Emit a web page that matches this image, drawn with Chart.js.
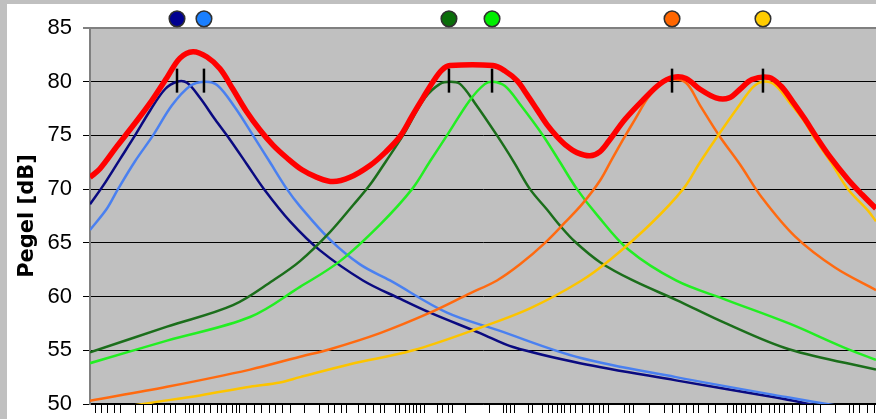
<!DOCTYPE html>
<html>
<head>
<meta charset="utf-8">
<script src="https://cdn.jsdelivr.net/npm/chart.js@4.4.1/dist/chart.umd.min.js"></script>
<style>
  html, body { margin: 0; padding: 0; background: #c0c0c0; width: 876px; height: 419px; overflow: hidden; }
  #panel { position: absolute; left: 7px; top: 4px; width: 869px; height: 415px; background: #ffffff; }
</style>
</head>
<body>
<div id="panel"><canvas id="chart"></canvas></div>
<script>
// Position along the (unlabelled) frequency axis, 0 = left edge, 100 = right edge
const navyPos  = [0, 1.65, 3.82, 5.73, 7.63, 9.54, 11.07, 12.34, 13.99, 15.90, 17.81, 19.98, 22.14, 25.45, 29.26, 34.73, 39.44, 43.26, 49.62, 53.82, 62.34, 74.55, 87.28, 92.88];
const navyDb   = [68.6, 70.3, 72.8, 75, 77.3, 79.3, 80, 79.9, 78.5, 76.5, 74.6, 72.3, 70, 67, 64.3, 61.5, 59.8, 58.5, 56.6, 55.3, 53.8, 52.2, 50.6, 49.8];

const bluePos  = [0, 2.16, 3.56, 5.73, 8.02, 10.43, 12.72, 14.50, 16.16, 18.45, 20.74, 22.90, 25.06, 26.72, 30.53, 34.35, 38.17, 45.42, 51.78, 62.34, 74.55, 88.93, 95.42];
const blueDb   = [66.2, 68.2, 70, 72.6, 75, 77.8, 79.6, 80, 79.7, 77.6, 75, 72.5, 70, 68.4, 65.3, 63, 61.5, 58.5, 56.9, 54.3, 52.5, 50.6, 49.8];

const dgreenPos = [0, 9.80, 18.19, 23.28, 26.72, 30.53, 33.46, 35.62, 37.66, 39.82, 42.62, 44.53, 45.80, 47.07, 48.98, 51.78, 53.95, 55.98, 58.14, 59.80, 61.71, 64.89, 69.08, 74.55, 80.92, 88.93, 100];
const dgreenDb  = [54.8, 57.2, 59.2, 61.5, 63.3, 66, 68.5, 70.4, 72.6, 75, 78.5, 79.8, 80, 79.8, 78, 75, 72.5, 70, 68.1, 66.6, 65.1, 63.2, 61.5, 59.7, 57.5, 55.1, 53.2];

const lgreenPos = [0, 9.80, 20.36, 26.72, 31.81, 36.90, 40.97, 43.26, 45.42, 48.35, 50.26, 51.27, 52.80, 54.71, 57.63, 59.80, 61.96, 64.50, 68.45, 74.55, 80.92, 88.93, 95.80, 100];
const lgreenDb  = [53.8, 55.9, 58.1, 60.9, 63.3, 66.7, 70, 72.6, 75, 78.3, 79.8, 80, 79.6, 77.9, 75, 72.5, 70, 67.6, 64.4, 61.5, 59.7, 57.5, 55.3, 54.1];

const orangePos = [0, 9.80, 20.36, 26.72, 30.53, 36.90, 43.26, 48.35, 51.78, 54.71, 57.89, 60.43, 62.72, 64.89, 66.41, 67.81, 69.34, 70.99, 72.52, 74.05, 75.83, 77.61, 80.03, 82.70, 85.50, 89.69, 94.78, 100];
const orangeDb  = [50.3, 51.6, 53.2, 54.4, 55.1, 56.6, 58.5, 60.3, 61.5, 63, 65, 66.9, 68.7, 70.8, 72.8, 74.6, 76.5, 78.5, 79.7, 80.2, 79.9, 77.8, 75, 72.3, 69.2, 65.6, 62.7, 60.6];

const yellowPos = [3.18, 7.63, 13.99, 20.36, 24.17, 26.72, 33.08, 41.10, 49.62, 55.98, 62.34, 66.29, 71.38, 75.45, 77.61, 79.90, 82.70, 84.35, 85.62, 87.15, 89.06, 90.97, 92.11, 94.27, 96.44, 98.98, 100];
const yellowDb  = [49.6, 50.1, 50.8, 51.6, 52, 52.5, 53.7, 55, 57.1, 58.9, 61.4, 63.5, 66.8, 70, 72.5, 75, 77.9, 79.5, 80, 79.7, 78, 76.2, 74.8, 72.5, 70, 68, 67];

// Overall level (sum of all six resonances)
const totalPos = [0, 1.27, 3.44, 5.47, 7.63, 9.80, 11.45, 13.10, 14.89, 16.54, 18.19, 19.85, 21.63, 23.28, 25.06, 26.97, 28.88, 30.92, 33.08, 35.62, 37.53, 39.44, 40.97, 42.37, 43.64, 44.78, 45.80, 51.27, 52.80, 54.33, 55.60, 56.87, 58.14, 59.41, 60.69, 61.96, 63.61, 64.89, 66.03, 68.07, 70.36, 72.52, 74.17, 75.83, 77.61, 79.64, 81.30, 82.70, 84.22, 86.39, 87.91, 89.44, 90.97, 92.37, 94.15, 96.44, 98.22, 100];
const totalDb  = [71.1, 71.9, 74, 75.9, 78, 80.4, 82.2, 82.8, 82.3, 81.2, 79.3, 77.3, 75.5, 74.1, 72.9, 71.8, 71.1, 70.7, 71.1, 72.2, 73.4, 74.9, 76.8, 78.5, 80, 81.1, 81.5, 81.5, 81, 80.1, 78.8, 77.4, 76, 74.9, 74, 73.4, 73.1, 73.5, 74.5, 76.5, 78.3, 79.8, 80.4, 80.3, 79.3, 78.5, 78.5, 79.3, 80.2, 80.4, 79.6, 78.1, 76.5, 74.9, 73, 70.9, 69.5, 68.2];

// Resonance peaks (position and level) with their legend colours
const peakPos    = [11.07, 14.50, 45.67, 51.15, 74.05, 85.62];
const peakDb     = [80.1, 80.1, 80.1, 80.1, 80.1, 80.1];
const peakColors = ['#000090', '#1a7fff', '#0a6e0a', '#00ee00', '#ff6600', '#ffcc00'];
const dotLevel   = 85.85;

// Tick marks of the frequency axis
const xTickPos = [0.64, 1.40, 2.29, 3.18, 3.82, 5.73, 6.87, 7.89, 8.65, 9.54, 10.18, 10.94, 12.21, 12.72, 13.23, 13.87, 14.63, 15.39, 16.16, 16.79, 17.43, 18.07, 18.70, 19.08, 19.85, 20.99, 21.88, 22.90, 23.54, 24.43, 25.45, 27.35, 29.26, 30.28, 31.17, 32.06, 32.57, 34.10, 34.99, 36.01, 36.90, 37.53, 38.81, 39.44, 40.08, 40.71, 41.10, 41.60, 41.99, 42.62, 44.15, 44.91, 45.55, 46.18, 47.71, 50.89, 52.55, 53.05, 53.44, 54.07, 55.73, 56.36, 57.63, 58.27, 58.78, 59.42, 60.05, 60.43, 61.07, 61.71, 62.72, 63.49, 64.12, 64.76, 65.27, 66.03, 67.94, 68.58, 69.21, 71.12, 73.03, 74.17, 74.94, 75.83, 76.72, 77.48, 78.63, 79.64, 81.17, 81.81, 82.19, 82.83, 83.46, 84.10, 84.73, 85.37, 86.39, 87.03, 87.66, 88.30, 89.44, 90.21, 91.10, 91.99, 93.00, 94.91, 96.57, 97.20, 97.84, 98.98, 99.75];
const yTicks = [50, 55, 60, 65, 70, 75, 80, 85];

const pts = (xs, ys) => xs.map((x, i) => ({ x: x, y: ys[i] }));

const curve = (label, xs, ys, color, width, order) => ({
  type: 'line', label, data: pts(xs, ys), borderColor: color, backgroundColor: color,
  borderWidth: width, pointRadius: 0, tension: 0.35, fill: false, order
});

const plotBackground = {
  id: 'plotBackground',
  beforeDraw(chart) {
    const { ctx, chartArea: a } = chart;
    ctx.save();
    ctx.fillStyle = '#c0c0c0';
    ctx.fillRect(a.left, a.top, a.right - a.left, a.bottom - a.top);
    ctx.restore();
  }
};

new Chart(document.getElementById('chart'), {
  type: 'line',
  data: {
    datasets: [
      {
        type: 'scatter', label: 'Resonanzen', data: pts(peakPos, peakDb),
        pointStyle: 'line', rotation: 90, pointRadius: 12, pointHoverRadius: 12,
        borderColor: '#000000', borderWidth: 2.5, order: 0, clip: false
      },
      {
        type: 'scatter', label: 'Legende', data: peakPos.map(x => ({ x, y: dotLevel })),
        pointStyle: 'circle', pointRadius: 7.8, pointHoverRadius: 7.8,
        backgroundColor: peakColors, borderColor: '#303030', borderWidth: 1.5, order: 0, clip: false
      },
      curve('Summe', totalPos, totalDb, '#ff0000', 5.5, 1),
      curve('Mode 6', yellowPos, yellowDb, '#fcc400', 2.5, 2),
      curve('Mode 5', orangePos, orangeDb, '#ff6a10', 2.5, 3),
      curve('Mode 4', lgreenPos, lgreenDb, '#22ee22', 2.5, 4),
      curve('Mode 3', dgreenPos, dgreenDb, '#1b6e1b', 2.5, 5),
      curve('Mode 2', bluePos, blueDb, '#4a80f0', 2.5, 6),
      curve('Mode 1', navyPos, navyDb, '#0a0a80', 2.5, 7)
    ]
  },
  options: {
    responsive: true,
    maintainAspectRatio: false,
    animation: false,
    events: [],
    layout: { autoPadding: false, padding: { top: 24, bottom: 6, left: 0, right: 0 } },
    plugins: { legend: { display: false }, tooltip: { enabled: false } },
    scales: {
      x: {
        type: 'linear', min: 0, max: 100,
        afterBuildTicks: s => { s.ticks = xTickPos.map(v => ({ value: v })); },
        afterFit: s => { s.height = 9; },
        ticks: { display: false },
        grid: { drawOnChartArea: false, drawTicks: true, tickLength: 9, color: '#000000', lineWidth: 1 },
        border: { display: true, color: '#000000', width: 1.5 }
      },
      y: {
        type: 'linear', min: 50, max: 85,
        afterBuildTicks: s => { s.ticks = yTicks.map(v => ({ value: v })); },
        afterFit: s => { s.width = 83; s.paddingTop = 0; s.paddingBottom = 0; },
        ticks: {
          color: '#000000', padding: 11,
          font: { family: '"Liberation Sans", Arial, sans-serif', size: 22 }
        },
        grid: {
          color: c => (c.tick && c.tick.value === 85 ? '#808080' : '#000000'),
          lineWidth: c => (c.tick && c.tick.value === 85 ? 2 : 1),
          tickLength: 7
        },
        border: { display: true, color: '#808080', width: 2 },
        title: {
          display: true, text: 'Pegel [dB]', color: '#000000',
          font: { family: '"DejaVu Sans", Verdana, sans-serif', size: 21, weight: 'bold' },
          padding: { top: 8, bottom: 0 }
        }
      }
    }
  },
  plugins: [plotBackground]
});
</script>
</body>
</html>
